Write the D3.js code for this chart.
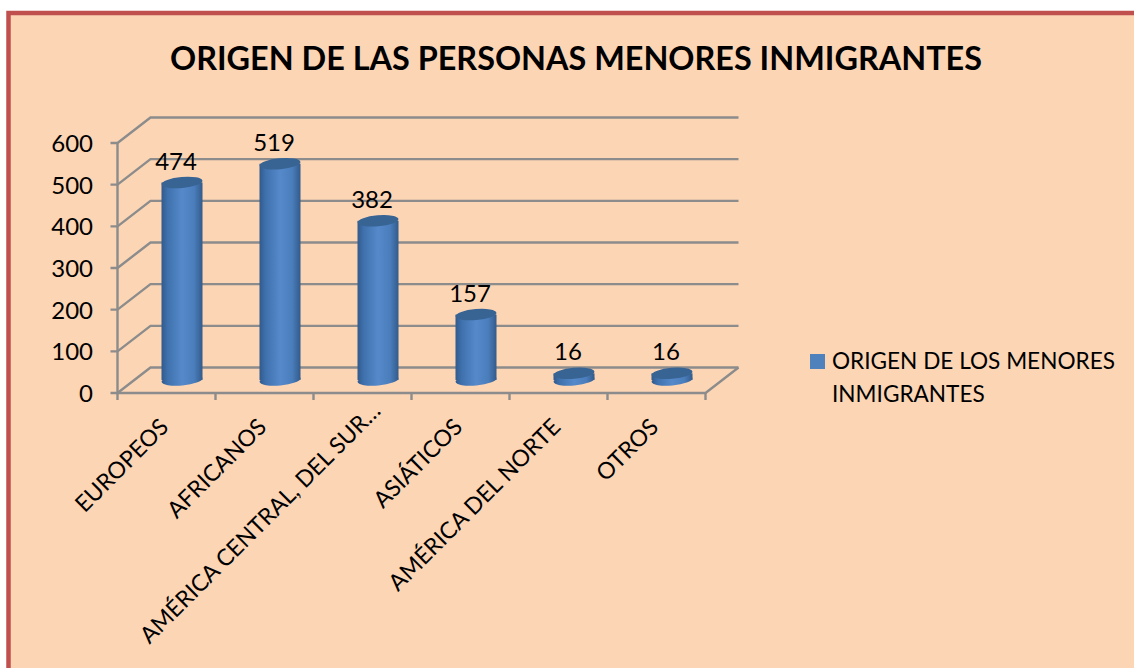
<!DOCTYPE html>
<html><head><meta charset="utf-8">
<style>html,body{margin:0;padding:0;background:#fff}svg{display:block}text{font-family:Lato,"Noto Sans",sans-serif;fill:#000}</style>
<script src="https://cdn.jsdelivr.net/npm/d3@7/dist/d3.min.js"></script></head><body>
<svg id="c" width="1134" height="668"></svg>
<script>
const categories = ["EUROPEOS","AFRICANOS","AMÉRICA CENTRAL, DEL SUR…","ASIÁTICOS","AMÉRICA DEL NORTE","OTROS"];
const values = [474,519,382,157,16,16];
const yTicks = [0,100,200,300,400,500,600];
const titleText = "ORIGEN DE LAS PERSONAS MENORES INMIGRANTES";
const legendLines = ["ORIGEN DE LOS MENORES","INMIGRANTES"];

const svg = d3.select("#c");
const defs = svg.append("defs");
const grad = defs.append("linearGradient").attr("id","cyl");
[[0,"#325a8c"],[0.15,"#3f71ad"],[0.5,"#5589ca"],[0.8,"#4a7dbb"],[1,"#335b8b"]].forEach(s=>grad.append("stop").attr("offset",s[0]).attr("stop-color",s[1]));

svg.append("rect").attr("x",8.5).attr("y",13).attr("width",1140).attr("height",680)
  .attr("fill","#fcd5b5").attr("stroke","#c0504d").attr("stroke-width",4.5);

svg.append("text").attr("x",576).attr("y",69.5).attr("text-anchor","middle")
  .attr("font-size",32.4).attr("font-weight",700).text(titleText);

const yFront = d3.scaleLinear().domain([0,600]).range([393,143]);
const depthX = 33, depthY = -25.5;
const x = d3.scaleBand().domain(categories).range([117.5,705.5]);
const yBar = d3.scaleLinear().domain([0,600]).range([380,130]);

const axis = "#8c8c8c";
const g = svg.append("g").attr("fill","none").attr("stroke",axis).attr("stroke-width",2.4);
yTicks.forEach(t=>{
  const y0=yFront(t);
  g.append("path").attr("d",`M${x.range()[0]-7},${y0}H${x.range()[0]}l${depthX},${depthY}H${x.range()[1]+depthX}`);
});
g.append("path").attr("d",`M${x.range()[0]},${yFront(600)}V${yFront(0)}H${x.range()[1]}l${depthX},${depthY}`);
categories.forEach(c=>g.append("path").attr("d",`M${x(c)},${yFront(0)}v7`));
g.append("path").attr("d",`M${x.range()[1]},${yFront(0)}v7`);

svg.append("g").selectAll("text").data(yTicks).join("text")
  .attr("x",93).attr("y",d=>yFront(d)+9).attr("text-anchor","end").attr("font-size",24).text(d=>d);

const rx = 20.5, ry = 5.5, tilt = -5;
const bars = svg.append("g").selectAll("g").data(values).join("g")
  .attr("transform",(d,i)=>`translate(${x(categories[i])+x.bandwidth()/2+15.5},0)`);
bars.append("ellipse").attr("cy",yBar(0)).attr("rx",rx).attr("ry",ry)
  .attr("transform",`rotate(${tilt} 0 ${yBar(0)})`).attr("fill","url(#cyl)");
bars.append("rect").attr("x",-rx).attr("width",2*rx).attr("y",d=>yBar(d)).attr("height",d=>yBar(0)-yBar(d)).attr("fill","url(#cyl)");
bars.append("ellipse").attr("cy",d=>yBar(d)).attr("rx",rx).attr("ry",ry)
  .attr("transform",d=>`rotate(${tilt} 0 ${yBar(d)})`).attr("fill","#386494");
bars.append("text").attr("x",-6).attr("y",d=>yBar(d)-13).attr("text-anchor","middle").attr("font-size",24).text(d=>d);

// the truncated label runs a little further along its diagonal
const labelShift = d => d.endsWith("…") ? 16 : 0;
svg.append("g").selectAll("text").data(categories).join("text")
  .attr("text-anchor","end").attr("font-size",23)
  .attr("transform",d=>`translate(${x(d)+x.bandwidth()/2-8+labelShift(d)},${417-labelShift(d)}) rotate(-45)`)
  .attr("dy","0.7em").text(d=>d);

svg.append("rect").attr("x",810).attr("y",354).attr("width",15).attr("height",15).attr("fill","#4f81bd");
svg.append("g").selectAll("text").data(legendLines).join("text")
  .attr("x",832).attr("y",(d,i)=>369+i*33).attr("font-size",22.6).text(d=>d);
</script></body></html>
